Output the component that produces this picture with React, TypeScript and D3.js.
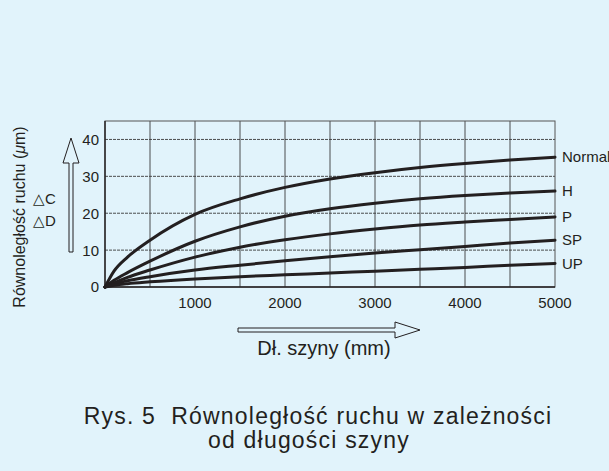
import React from 'react';
import * as d3 from 'd3';

// rail length (mm)
const lengths = [0, 100, 250, 500, 1000, 1500, 2000, 2500, 3000, 3500, 4000, 4500, 5000];

// running parallelism (µm) per accuracy class
const normalVals = [0, 4.3, 8.1, 12.7, 19.7, 23.9, 27, 29.3, 31, 32.4, 33.5, 34.4, 35.2];
const hVals = [0, 1.8, 3.9, 7, 12.4, 16.3, 19.2, 21.2, 22.7, 23.9, 24.8, 25.5, 26];
const pVals = [0, 1.1, 2.6, 4.6, 8.1, 10.8, 12.8, 14.4, 15.7, 16.8, 17.6, 18.3, 19];
const spVals = [0, 0.86, 1.7, 2.8, 4.6, 5.9, 7.1, 8.2, 9.2, 10.1, 11, 11.9, 12.7];
const upVals = [0, 0.45, 0.9, 1.4, 2.2, 2.8, 3.3, 3.8, 4.3, 4.8, 5.3, 5.9, 6.4];

const seriesNames = ['Normal', 'H', 'P', 'SP', 'UP'];
const seriesVals = [normalVals, hVals, pVals, spVals, upVals];

const xTicks = [1000, 2000, 3000, 4000, 5000];
const yTicks = [0, 10, 20, 30, 40];
const xGrid = [500, 1000, 1500, 2000, 2500, 3000, 3500, 4000, 4500];
const yGrid = [10, 20, 30, 40];

const W = 609;
const H = 471;
const BG = '#e1f3fb';
const INK = '#231f20';
const FONT = '"Liberation Sans", Arial, sans-serif';

const App: React.FC = () => {
	const x = d3.scaleLinear().domain([0, 5000]).range([105, 555]);
	const y = d3.scaleLinear().domain([0, 45]).range([287, 121]);

	const line = d3
		.line<number>()
		.x((_, i) => x(lengths[i]))
		.y((d) => y(d))
		.curve(d3.curveMonotoneX);

	// hollow arrows (axis direction markers)
	const upArrow = 'M69,252 L69,163 L63,163 L71,138 L79,163 L73,163 L73,252 Z';
	const rightArrow = 'M238,328 L395,328 L395,322 L420,330 L395,338 L395,332 L238,332 Z';

	return (
		<svg
			width={W}
			height={H}
			style={{ position: 'absolute', left: 0, top: 0, fontFamily: FONT }}
		>
			<rect width={W} height={H} fill={BG} />

			{/* grid */}
			<g stroke='#3a3a3a' strokeWidth={0.9}>
				{xGrid.map((v) => (
					<line key={'vx' + v} x1={x(v)} x2={x(v)} y1={y(45)} y2={y(0)} />
				))}
				{yGrid.map((v) => (
					<line
						key={'hy' + v}
						x1={x(0)}
						x2={x(5000)}
						y1={y(v)}
						y2={y(v)}
						strokeDasharray='3,1'
					/>
				))}
				<rect
					x={x(0)}
					y={y(45)}
					width={x(5000) - x(0)}
					height={y(0) - y(45)}
					fill='none'
					stroke='#555'
					strokeWidth={1}
				/>
				<line x1={x(0)} x2={x(0)} y1={y(45)} y2={y(0)} stroke={INK} strokeWidth={1.4} />
				<line x1={x(0)} x2={x(5000)} y1={y(0)} y2={y(0)} stroke={INK} strokeWidth={1.4} />
			</g>

			{/* curves */}
			<g fill='none' stroke={INK} strokeWidth={3} strokeLinecap='round'>
				{seriesVals.map((vals, i) => (
					<path key={seriesNames[i]} d={line(vals) ?? ''} />
				))}
			</g>

			{/* series labels */}
			<g fontSize={15} fill={INK}>
				{seriesVals.map((vals, i) => (
					<text key={'l' + i} x={562} y={y(vals[vals.length - 1])} dy='0.35em'>
						{seriesNames[i]}
					</text>
				))}
			</g>

			{/* y ticks */}
			<g fontSize={15} fill={INK} textAnchor='end'>
				{yTicks.map((v) => (
					<text key={'yt' + v} x={99} y={y(v)} dy='0.36em'>
						{v}
					</text>
				))}
			</g>

			{/* x ticks */}
			<g fontSize={15} fill={INK} textAnchor='middle'>
				{xTicks.map((v) => (
					<text key={'xt' + v} x={x(v)} y={308}>
						{v}
					</text>
				))}
			</g>

			{/* axis arrows */}
			<path d={upArrow} fill={BG} stroke={INK} strokeWidth={1} />
			<path d={rightArrow} fill={BG} stroke={INK} strokeWidth={1} />

			<g fontSize={15} fill={INK}>
				<text x={33} y={204}>△C</text>
				<text x={33} y={226}>△D</text>
			</g>

			<text
				transform='translate(25,217) rotate(-90)'
				textAnchor='middle'
				fontSize={16}
				fill={INK}
			>
				Równoległość ruchu (<tspan fontStyle='italic'>μ</tspan>m)
			</text>

			<text x={324} y={355} textAnchor='middle' fontSize={20} fill={INK}>
				Dł. szyny (mm)
			</text>

			<g fontSize={23} fill={INK} textAnchor='middle' letterSpacing={1.2}>
				<text x={318} y={424} style={{ whiteSpace: 'pre' }}>
					Rys. 5  Równoległość ruchu w zależności
				</text>
				<text x={309} y={448}>od długości szyny</text>
			</g>
		</svg>
	);
};

export default App;
